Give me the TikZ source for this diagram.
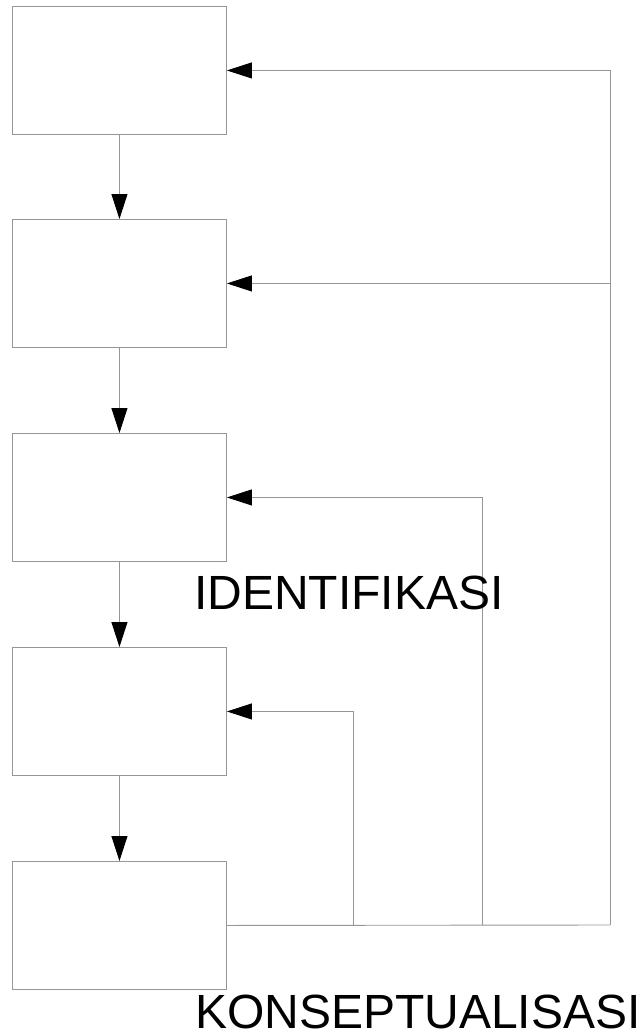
\documentclass[tikz,border=0pt]{standalone}
\usepackage{fontspec}
\setmainfont{Liberation Sans}
\usetikzlibrary{arrows.meta}
\definecolor{linegray}{RGB}{150,150,150}
\begin{document}
\begin{tikzpicture}[x=1pt,y=-1pt,
  stagebox/.style={draw=linegray, line width=0.9pt, fill=white, minimum width=214pt, minimum height=128pt, inner sep=0pt, anchor=north west},
  conn/.style={draw=linegray, line width=0.9pt},
  flow/.style={conn, -{Triangle[length=25pt,width=16pt,color=black,fill=black]}},
  bigtext/.style={font=\fontsize{48}{52}\selectfont, anchor=base west, inner sep=0pt}]
\useasboundingbox (0,0) rectangle (642,1034);
\node[stagebox] (b1) at (12,6) {};
\node[stagebox] (b2) at (12,219) {};
\node[stagebox] (b3) at (12,433) {};
\node[stagebox] (b4) at (12,647) {};
\node[stagebox] (b5) at (12,861) {};
\draw[flow] (b1.south) -- (b2.north);
\draw[flow] (b2.south) -- (b3.north);
\draw[flow] (b3.south) -- (b4.north);
\draw[flow] (b4.south) -- (b5.north);
\coordinate (r1) at (610,925);
\coordinate (r2) at (482,925);
\coordinate (r3) at (353,925);
\draw[conn] (b5.east) -- (r1);
\draw[flow] (r1) |- (b1.east);
\draw[flow] (b2.east -| r1) -- (b2.east);
\draw[flow] (r2) |- (b3.east);
\draw[flow] (r3) |- (b4.east);
\node[bigtext] (t1) at (194,609) {IDENTIFIKASI};
\node[bigtext] (t2) at (195,1028) {KONSEPTUALISASI};
\end{tikzpicture}
\end{document}
